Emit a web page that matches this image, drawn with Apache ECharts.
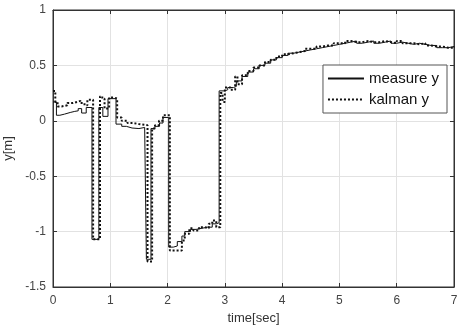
<!DOCTYPE html>
<html>
<head>
<meta charset="utf-8">
<script src="https://cdn.jsdelivr.net/npm/echarts@6/dist/echarts.min.js"></script>
<style>
  html, body { margin: 0; padding: 0; background: #fff; }
  #chart { width: 457px; height: 326px; }
</style>
</head>
<body>
<div id="chart"></div>
<script>
// [time (s), y (m)] — step samples
const measureY = [
  [0, 0.17], [0.06, 0.05], [0.12, 0.06], [0.2, 0.075], [0.3, 0.085], [0.38, 0.09],
  [0.44, 0.11], [0.5, 0.07], [0.58, 0.12], [0.68, -1.07], [0.8, 0.12], [0.87, 0.04],
  [0.96, 0.2], [1.1, -0.03], [1.2, -0.05], [1.28, -0.065], [1.38, -0.07], [1.5, -0.06],
  [1.6, -0.065], [1.63, -1.25], [1.71, -0.07], [1.78, -0.05], [1.86, -0.02], [1.92, 0.03],
  [2.02, -1.14], [2.1, -1.13], [2.17, -1.09], [2.25, -1.04], [2.3, -1.0], [2.4, -0.98],
  [2.5, -0.97], [2.6, -0.96], [2.7, -0.96], [2.78, -0.93], [2.85, -0.92], [2.9, 0.27],
  [3.0, 0.28], [3.05, 0.3], [3.15, 0.31], [3.2, 0.36], [3.3, 0.4], [3.4, 0.44],
  [3.5, 0.47], [3.6, 0.5], [3.7, 0.52], [3.8, 0.55], [3.9, 0.57], [4.0, 0.59],
  [4.1, 0.61], [4.2, 0.62], [4.3, 0.63], [4.4, 0.64], [4.5, 0.65], [4.6, 0.66],
  [4.7, 0.67], [4.8, 0.68], [4.9, 0.69], [5.0, 0.7], [5.1, 0.71], [5.2, 0.72],
  [5.3, 0.7], [5.4, 0.71], [5.5, 0.72], [5.6, 0.7], [5.7, 0.71], [5.8, 0.72],
  [5.9, 0.7], [6.0, 0.71], [6.1, 0.7], [6.2, 0.69], [6.3, 0.7], [6.4, 0.69],
  [6.5, 0.68], [6.6, 0.68], [6.7, 0.66], [6.8, 0.66], [6.9, 0.67], [7.0, 0.66]
];

const kalmanY = [
  [0, 0.27], [0.04, 0.17], [0.08, 0.13], [0.15, 0.14], [0.25, 0.16], [0.35, 0.17],
  [0.42, 0.18], [0.48, 0.16], [0.55, 0.14], [0.6, 0.19], [0.7, -1.07], [0.82, 0.22],
  [0.86, 0.2], [0.9, 0.11], [0.98, 0.21], [1.07, 0.2], [1.12, 0.03], [1.2, 0.0],
  [1.3, -0.02], [1.4, -0.03], [1.5, -0.04], [1.65, -1.27], [1.73, -0.07], [1.78, -0.04],
  [1.85, 0.0], [1.92, 0.05], [2.04, -1.17], [2.25, -1.08], [2.3, -1.02], [2.38, -0.97],
  [2.45, -0.99], [2.55, -0.96], [2.65, -0.97], [2.72, -0.93], [2.78, -0.9], [2.85, -0.96],
  [2.92, 0.25], [2.96, 0.17], [3.0, 0.3], [3.1, 0.28], [3.18, 0.4], [3.22, 0.33],
  [3.3, 0.41], [3.4, 0.45], [3.5, 0.48], [3.6, 0.5], [3.7, 0.53], [3.8, 0.55],
  [3.9, 0.58], [4.0, 0.6], [4.1, 0.61], [4.2, 0.62], [4.3, 0.63], [4.4, 0.65],
  [4.5, 0.65], [4.6, 0.67], [4.7, 0.68], [4.8, 0.68], [4.9, 0.7], [5.0, 0.7],
  [5.1, 0.72], [5.2, 0.71], [5.3, 0.71], [5.4, 0.72], [5.5, 0.71], [5.6, 0.71],
  [5.7, 0.72], [5.8, 0.71], [5.9, 0.7], [6.0, 0.72], [6.1, 0.7], [6.2, 0.7],
  [6.3, 0.69], [6.4, 0.7], [6.5, 0.68], [6.6, 0.67], [6.7, 0.67], [6.8, 0.66],
  [6.9, 0.66], [7.0, 0.67]
];

const xTicks = [0, 1, 2, 3, 4, 5, 6, 7];
const yTicks = [-1.5, -1, -0.5, 0, 0.5, 1];

const font = "Liberation Sans, Arial, sans-serif";
const chart = echarts.init(document.getElementById("chart"), null, { renderer: "canvas" });

const frame = { onZero: false, lineStyle: { color: "#333", width: 1 } };
const tick = { show: true, inside: true, length: 4, lineStyle: { color: "#333" } };

chart.setOption({
  animation: false,
  backgroundColor: "#fff",
  grid: {
    left: 53, right: 3, top: 10, bottom: 39,
    containLabel: false, outerBoundsMode: "none",
    show: true, borderColor: "#333", borderWidth: 1,
  },
  legend: {
    orient: "vertical",
    right: 10,
    top: 65,
    backgroundColor: "#fff",
    borderColor: "#555",
    borderWidth: 1,
    padding: [6, 8, 6, 4],
    itemGap: 6,
    itemWidth: 36,
    itemHeight: 10,
    itemStyle: { opacity: 0 },
    textStyle: { fontFamily: font, fontSize: 15, color: "#111" },
    data: ["measure y", "kalman y"],
  },
  xAxis: [
    {
      type: "value", min: 0, max: 7, interval: 1,
      name: "time[sec]", nameLocation: "middle", nameGap: 24,
      nameTextStyle: { fontFamily: font, fontSize: 13, color: "#333" },
      axisLine: frame, axisTick: tick,
      axisLabel: { fontFamily: font, fontSize: 12, color: "#444", margin: 8,
        formatter: (v) => (xTicks.includes(v) ? String(v) : "") },
      splitLine: { show: true, lineStyle: { color: "#e2e2e2" } },
    },
    {
      type: "value", position: "top", min: 0, max: 7, interval: 1,
      axisLine: frame, axisTick: tick, axisLabel: { show: false }, splitLine: { show: false },
    },
  ],
  yAxis: [
    {
      type: "value", min: -1.5, max: 1, interval: 0.5,
      name: "y[m]", nameLocation: "middle", nameGap: 37, nameRotate: 90,
      nameTextStyle: { fontFamily: font, fontSize: 13, color: "#333" },
      axisLine: frame, axisTick: tick,
      axisLabel: { fontFamily: font, fontSize: 12, color: "#444", margin: 7,
        formatter: (v) => (yTicks.includes(v) ? String(v) : "") },
      splitLine: { show: true, lineStyle: { color: "#e2e2e2" } },
    },
    {
      type: "value", position: "right", min: -1.5, max: 1, interval: 0.5,
      axisLine: frame, axisTick: tick, axisLabel: { show: false }, splitLine: { show: false },
    },
  ],
  series: [
    {
      name: "measure y", type: "line", step: "end", showSymbol: false, symbol: "none",
      data: measureY,
      lineStyle: { color: "#111", width: 1 },
      itemStyle: { color: "#111" },
    },
    {
      name: "kalman y", type: "line", step: "end", showSymbol: false, symbol: "none",
      data: kalmanY,
      lineStyle: { color: "#111", width: 2, type: [2, 2] },
      itemStyle: { color: "#111" },
    },
  ],
});
</script>
</body>
</html>
